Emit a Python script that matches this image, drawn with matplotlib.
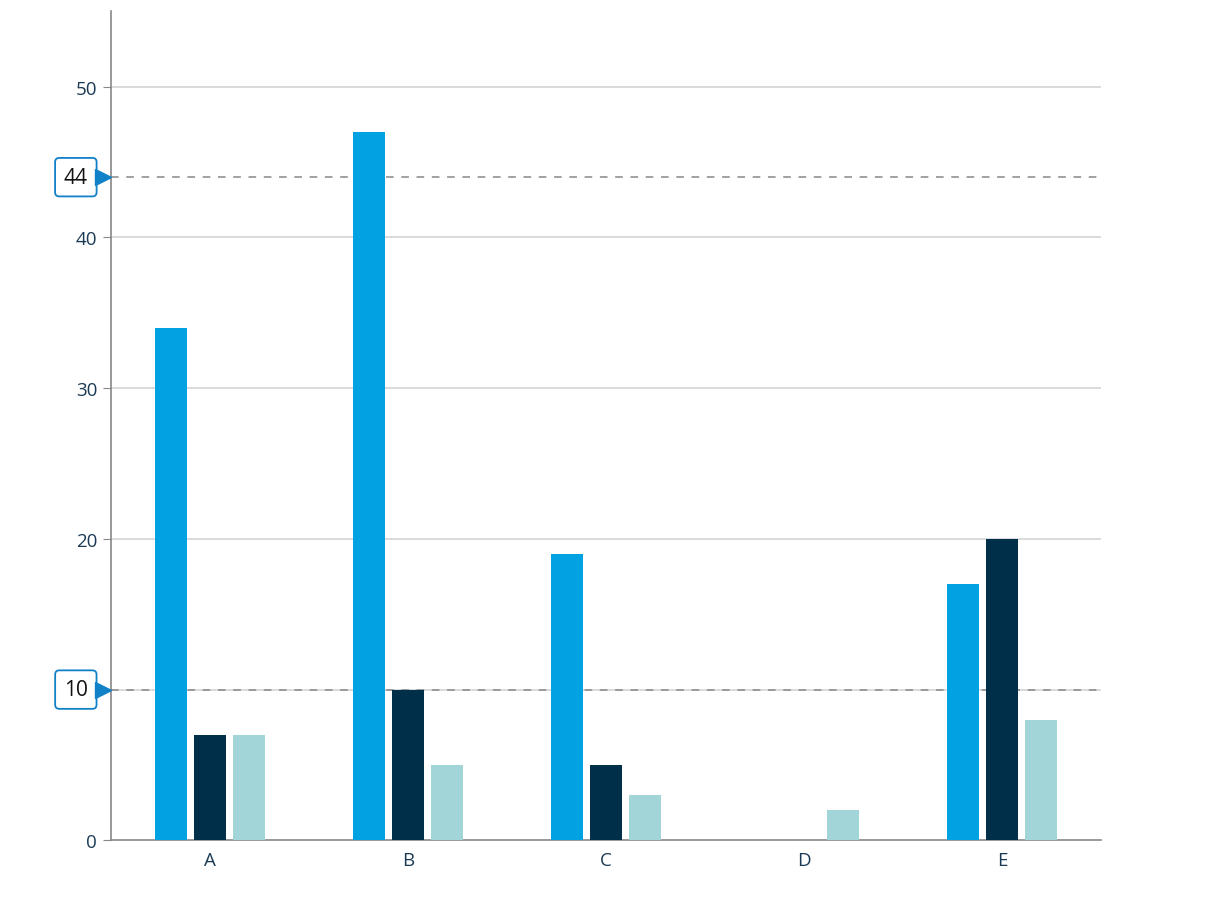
import numpy as np
import matplotlib.pyplot as plt

categories = ["A", "B", "C", "D", "E"]
series_1 = [34, 47, 19, 0, 17]
series_2 = [7, 10, 5, 0, 20]
series_3 = [7, 5, 3, 2, 8]
ref_lines = [44, 10]
y_ticks = [0, 10, 20, 30, 40, 50]

colors = ["#00a2e1", "#003049", "#a1d5d8"]

plt.rcParams['font.family'] = ['Open Sans', 'DejaVu Sans']

fig = plt.figure(figsize=(12.13, 9.03), dpi=100)
ax = fig.add_axes([0.0915, 0.0683, 0.8162, 0.918])

x = np.arange(len(categories))
step = 0.197
width = 0.162
for i, (vals, c) in enumerate(zip([series_1, series_2, series_3], colors)):
    ax.bar(x + (i - 1) * step, vals, width=width, color=c, zorder=3)

ax.set_xlim(-0.5, 4.5)
ax.set_ylim(0, 55)
ax.set_yticks(y_ticks)
# the tick label under a reference box is hidden by the box
ax.set_yticklabels(["" if t in ref_lines else str(t) for t in y_ticks])
ax.set_xticks(x)
ax.set_xticklabels(categories)

# grid lines (skip zero, axis is there)
for t in y_ticks[1:]:
    ax.axhline(t, color="#d4d4d4", lw=1.2, zorder=1)

# reference lines with boxed labels
for v in ref_lines:
    ax.axhline(v, color="#888888", lw=1.1, ls=(0, (5, 5)), zorder=2)
    ax.text(-0.0355, v, str(v), transform=ax.get_yaxis_transform(),
            ha="center", va="center", fontsize=15, color="#111111",
            bbox=dict(boxstyle="round,pad=0.42,rounding_size=0.2",
                      fc="white", ec="#1181c8", lw=1.3),
            clip_on=False, zorder=5)
    ax.plot([-0.008], [v], marker=">", ms=11, color="#1181c8",
            transform=ax.get_yaxis_transform(), clip_on=False, zorder=6)

for s in ["top", "right"]:
    ax.spines[s].set_visible(False)
for s in ["left", "bottom"]:
    ax.spines[s].set_color("#888888")
    ax.spines[s].set_linewidth(1.2)

ax.tick_params(axis="y", length=6, color="#888888", labelsize=13.5,
               labelcolor="#1b3a55", pad=4)
ax.tick_params(axis="x", length=0, labelsize=13.5, labelcolor="#1b3a55", pad=8)

plt.savefig("out.png", dpi=100)
